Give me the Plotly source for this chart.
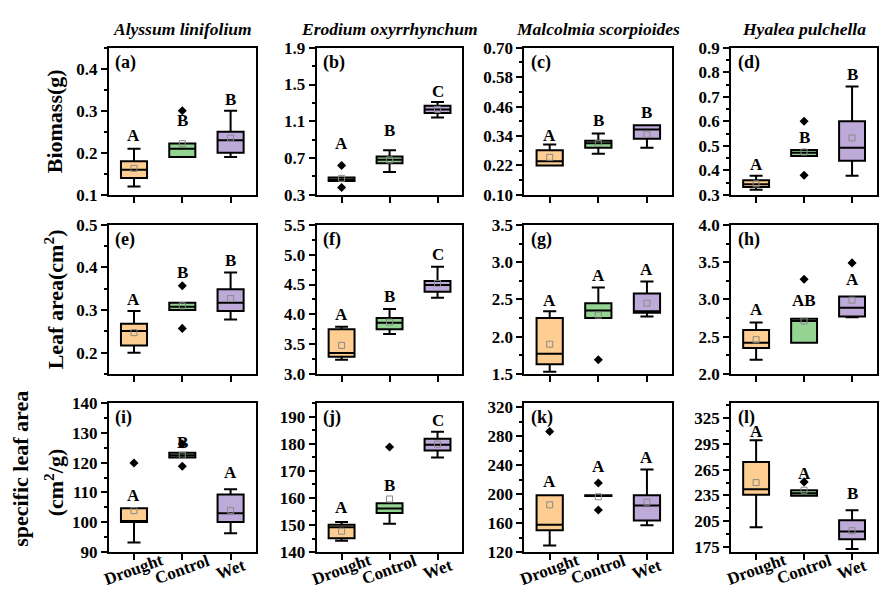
import plotly.graph_objects as go

groups = ["Drought", "Control", "Wet"]
species = ["Alyssum linifolium", "Erodium oxyrrhynchum", "Malcolmia scorpioides", "Hyalea pulchella"]
panel_tags = ["(a)", "(b)", "(c)", "(d)", "(e)", "(f)", "(g)", "(h)", "(i)", "(j)", "(k)", "(l)"]

q1 = [
    [0.14, 0.19, 0.20], [0.45, 0.644, 1.19], [0.22, 0.292, 0.329], [0.332, 0.458, 0.439],
    [0.217, 0.30, 0.298], [3.29, 3.75, 4.38], [1.63, 2.25, 2.32], [2.35, 2.42, 2.77],
    [100.1, 121.7, 100.1], [145.1, 154.4, 177.5], [150.3, 197.5, 163.6], [235.9, 234.7, 184.1],
]
median = [
    [0.16, 0.21, 0.23], [0.465, 0.682, 1.227], [0.237, 0.31, 0.367], [0.343, 0.472, 0.492],
    [0.251, 0.308, 0.317], [3.35, 3.86, 4.49], [1.77, 2.35, 2.34], [2.42, 2.71, 2.89],
    [100.1, 122.5, 103.0], [149.2, 156.1, 179.6], [157.8, 198.0, 184.5], [242.3, 237.5, 192.9],
]
q3 = [
    [0.18, 0.222, 0.25], [0.49, 0.718, 1.27], [0.282, 0.321, 0.384], [0.36, 0.483, 0.60],
    [0.268, 0.317, 0.349], [3.75, 3.94, 4.56], [2.25, 2.45, 2.58], [2.59, 2.74, 3.04],
    [104.7, 123.3, 109.3], [150.1, 158.0, 181.8], [198.7, 198.7, 198.7], [273.8, 241.1, 206.2],
]
lower = [
    [0.12, 0.19, 0.19], [0.45, 0.55, 1.14], [0.22, 0.268, 0.292], [0.321, 0.458, 0.378],
    [0.20, 0.30, 0.278], [3.24, 3.67, 4.28], [1.53, 2.25, 2.27], [2.19, 2.42, 2.76],
    [93.2, 121.7, 96.3], [144.2, 150.5, 174.9], [129.0, 197.5, 157.0], [197.8, 234.7, 172.7],
]
upper = [
    [0.21, 0.222, 0.30], [0.49, 0.784, 1.31], [0.305, 0.35, 0.384], [0.378, 0.483, 0.742],
    [0.298, 0.317, 0.388], [3.79, 4.09, 4.80], [2.34, 2.66, 2.74], [2.69, 2.74, 3.04],
    [104.7, 123.3, 111.1], [151.1, 158.0, 184.4], [198.7, 198.7, 234.3], [299.3, 241.1, 217.6],
]
means = [
    [0.163, 0.222, 0.235], [0.48, 0.68, 1.23], [0.253, 0.31, 0.347], [0.345, 0.475, 0.532],
    [0.247, 0.31, 0.327], [3.48, 3.87, 4.52], [1.90, 2.29, 2.45], [2.46, 2.71, 2.99],
    [103.9, 122.5, 104.0], [147.7, 159.6, 179.8], [185.3, 196.5, 189.0], [249.9, 241.0, 194.0],
]
outliers = [
    [[], [0.30], []], [[0.62, 0.38], [], []], [[], [], []], [[], [0.60, 0.38], []],
    [[], [0.357, 0.257], []], [[], [], []], [[], [1.69], []], [[], [3.27], [3.49]],
    [[119.9], [126.3, 118.8], []], [[], [178.8], []], [[286.7], [215.6, 178.3], []], [[], [250.7], []],
]
letters = [
    ["A", "B", "B"], ["A", "B", "C"], ["A", "B", "B"], ["A", "B", "B"],
    ["A", "B", "B"], ["A", "B", "C"], ["A", "A", "A"], ["A", "AB", "A"],
    ["A", "B", "A"], ["A", "B", "C"], ["A", "A", "A"], ["A", "A", "B"],
]
letter_y = [
    [0.224, 0.259, 0.31], [0.774, 0.918, 1.345], [0.312, 0.371, 0.404], [0.394, 0.505, 0.762],
    [0.308, 0.37, 0.399], [3.88, 4.18, 4.87], [2.38, 2.72, 2.80], [2.76, 2.88, 3.17],
    [106.6, 124.4, 114.1], [153.7, 161.8, 185.8], [207.6, 227.6, 241.0], [301.0, 252.0, 229.0],
]

y_ranges = [
    [0.1, 0.45], [0.3, 1.9], [0.1, 0.7], [0.3, 0.9],
    [0.15, 0.5], [3.0, 5.5], [1.5, 3.5], [2.0, 4.0],
    [90, 140], [140, 195], [120, 326], [169, 342.5],
]
y_tick0 = [0.1, 0.3, 0.1, 0.3, 0.1, 3.0, 1.5, 2.0, 90, 140, 120, 175]
y_dtick = [0.1, 0.4, 0.12, 0.1, 0.1, 0.5, 0.5, 0.5, 10, 10, 40, 30]
y_fmt = [".1f", ".1f", ".2f", ".1f", ".1f", ".1f", ".1f", ".1f", "d", "d", "d", "d"]

fills = ["#FDCD91", "#93D493", "#BEAAD8"]
FONT = "Liberation Serif"

col_dom = [[109, 256], [317, 463], [525, 673], [732, 878]]
row_dom = [[40, 192], [223, 377], [407, 561]]
W, H = 879, 596

fig = go.Figure()
layout = {}
annotations = []

for p in range(12):
    r, c = divmod(p, 4)
    n = p + 1
    xa = "x" if n == 1 else f"x{n}"
    ya = "y" if n == 1 else f"y{n}"
    xd = [col_dom[c][0] / W, col_dom[c][1] / W]
    yd = [1 - row_dom[r][1] / H, 1 - row_dom[r][0] / H]
    layout["xaxis" if n == 1 else f"xaxis{n}"] = dict(
        domain=xd, anchor=ya, range=[-0.52, 2.52], tickvals=[0, 1, 2],
        showticklabels=False, ticks="outside", ticklen=6, tickwidth=2, tickcolor="black",
        showline=True, linecolor="black", linewidth=2, mirror=True,
        showgrid=False, zeroline=False, fixedrange=True,
    )
    layout["yaxis" if n == 1 else f"yaxis{n}"] = dict(
        domain=yd, anchor=xa, range=y_ranges[p], tick0=y_tick0[p], dtick=y_dtick[p],
        tickformat=y_fmt[p], ticks="outside", ticklen=6, tickwidth=2, tickcolor="black",
        minor=dict(tick0=y_tick0[p], dtick=y_dtick[p] / 2, ticks="outside", ticklen=3,
                   tickwidth=2, tickcolor="black", showgrid=False),
        tickfont=dict(family=FONT, size=17, color="black", weight="bold"),
        showline=True, linecolor="black", linewidth=2, mirror=True,
        showgrid=False, zeroline=False, fixedrange=True,
    )
    for g in range(3):
        fig.add_trace(go.Box(
            x=[g], q1=[q1[p][g]], median=[median[p][g]], q3=[q3[p][g]],
            lowerfence=[lower[p][g]], upperfence=[upper[p][g]],
            fillcolor=fills[g], line=dict(color="black", width=2),
            width=0.54, whiskerwidth=0.5, boxpoints=False,
            xaxis=xa, yaxis=ya, showlegend=False, hoverinfo="skip",
        ))
        fig.add_trace(go.Scatter(
            x=[g], y=[means[p][g]], mode="markers",
            marker=dict(symbol="square-open", size=6, color="#8a8a8a", line=dict(width=1)),
            xaxis=xa, yaxis=ya, showlegend=False, hoverinfo="skip",
        ))
        if outliers[p][g]:
            fig.add_trace(go.Scatter(
                x=[g] * len(outliers[p][g]), y=outliers[p][g], mode="markers",
                marker=dict(symbol="diamond", size=7, color="black"),
                xaxis=xa, yaxis=ya, showlegend=False, hoverinfo="skip",
            ))
        annotations.append(dict(
            x=g, y=letter_y[p][g], xref=xa, yref=ya, text=letters[p][g], showarrow=False,
            xanchor="center", yanchor="bottom", yshift=-4,
            font=dict(family=FONT, size=17, color="black", weight="bold"),
        ))
        if r == 2:
            annotations.append(dict(
                x=g, y=1 - 579 / H, xref=xa, yref="paper", text=groups[g], showarrow=False,
                xanchor="center", yanchor="middle", textangle=-20,
                font=dict(family=FONT, size=17, color="black", weight="bold"),
            ))
    annotations.append(dict(
        x=0.03, y=1, xref=f"{xa} domain", yref=f"{ya} domain", text=panel_tags[p],
        showarrow=False, xanchor="left", yanchor="top", yshift=-2,
        font=dict(family=FONT, size=18, color="black", weight="bold"),
    ))

for c in range(4):
    annotations.append(dict(
        x=(col_dom[c][0] + col_dom[c][1]) / 2 / W, y=1 - 21 / H, xref="paper", yref="paper",
        text=species[c], showarrow=False, xanchor="center", yanchor="middle",
        font=dict(family=FONT, size=17.5, color="black", weight="bold", style="italic"),
    ))

row_texts = [("Biomass(g)", 54, 116), ("Leaf area(cm<sup>2</sup>)", 54, 300),
             ("specific leaf area", 21, 475), ("(cm<sup>2</sup>/g)", 54, 489)]
for txt, px, py in row_texts:
    annotations.append(dict(
        x=px / W, y=1 - py / H, xref="paper", yref="paper", text=txt, showarrow=False,
        xanchor="center", yanchor="middle", textangle=-90,
        font=dict(family=FONT, size=22, color="black", weight="bold"),
    ))

fig.update_layout(
    width=W, height=H, margin=dict(l=0, r=0, t=0, b=0),
    plot_bgcolor="white", paper_bgcolor="white",
    annotations=annotations, **layout,
)
fig.write_html("out.html")
